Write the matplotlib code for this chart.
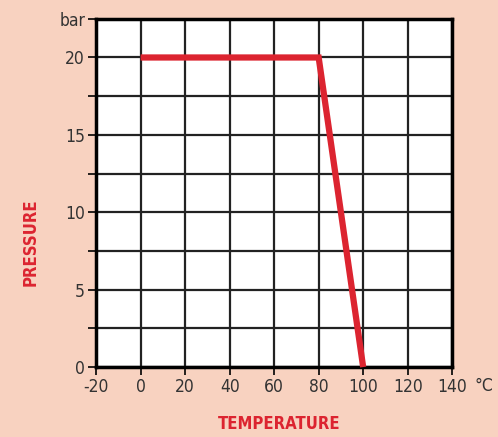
import matplotlib.pyplot as plt
import numpy as np

# data
temp = [0, 80, 100]
pressure = [20, 20, 0]
xticks = [-20, 0, 20, 40, 60, 80, 100, 120, 140]
yticks = [0, 5, 10, 15, 20]

bg = '#f8d2c0'
red = '#dc2430'

plt.rcParams['font.family'] = ['DejaVu Sans']
plt.rcParams['font.stretch'] = 'condensed'
plt.rcParams['axes.unicode_minus'] = False

fig = plt.figure(figsize=(4.98, 4.37), dpi=100, facecolor=bg)
ax = fig.add_axes([0.193, 0.160, 0.715, 0.797])
ax.set_facecolor('white')

# grid every 20 C and 2.5 bar
ax.set_xlim(-20, 140)
ax.set_ylim(0, 22.5)
ax.set_xticks(xticks)
ax.set_yticks(np.arange(0, 22.6, 2.5), minor=True)
ax.grid(True, which='both', color='#222222', linewidth=1.6)
ax.set_axisbelow(True)
ax.tick_params(which='both', direction='out', length=6, width=1.2, colors='black',
               labelsize=12.5, labelcolor='#333333', pad=2)
for s in ax.spines.values():
    s.set_linewidth(2.5)
    s.set_color('black')

ax.plot(temp, pressure, color=red, linewidth=4.5, solid_capstyle='butt',
        solid_joinstyle='miter', clip_on=False, zorder=5)

ax.set_yticks(list(yticks) + [22.5])
ax.set_yticklabels([str(v) for v in yticks] + ['bar'])
ax.text(1.09, -0.055, '°C', transform=ax.transAxes, fontsize=12.5,
        color='#333333', ha='center', va='center')

fig.text(0.062, 0.445, 'PRESSURE', rotation=90, color=red, fontsize=12,
         fontweight='bold', ha='center', va='center')
fig.text(0.56, 0.03, 'TEMPERATURE', color=red, fontsize=12,
         fontweight='bold', ha='center', va='center')

fig.savefig('out.png', dpi=100, facecolor=bg)
